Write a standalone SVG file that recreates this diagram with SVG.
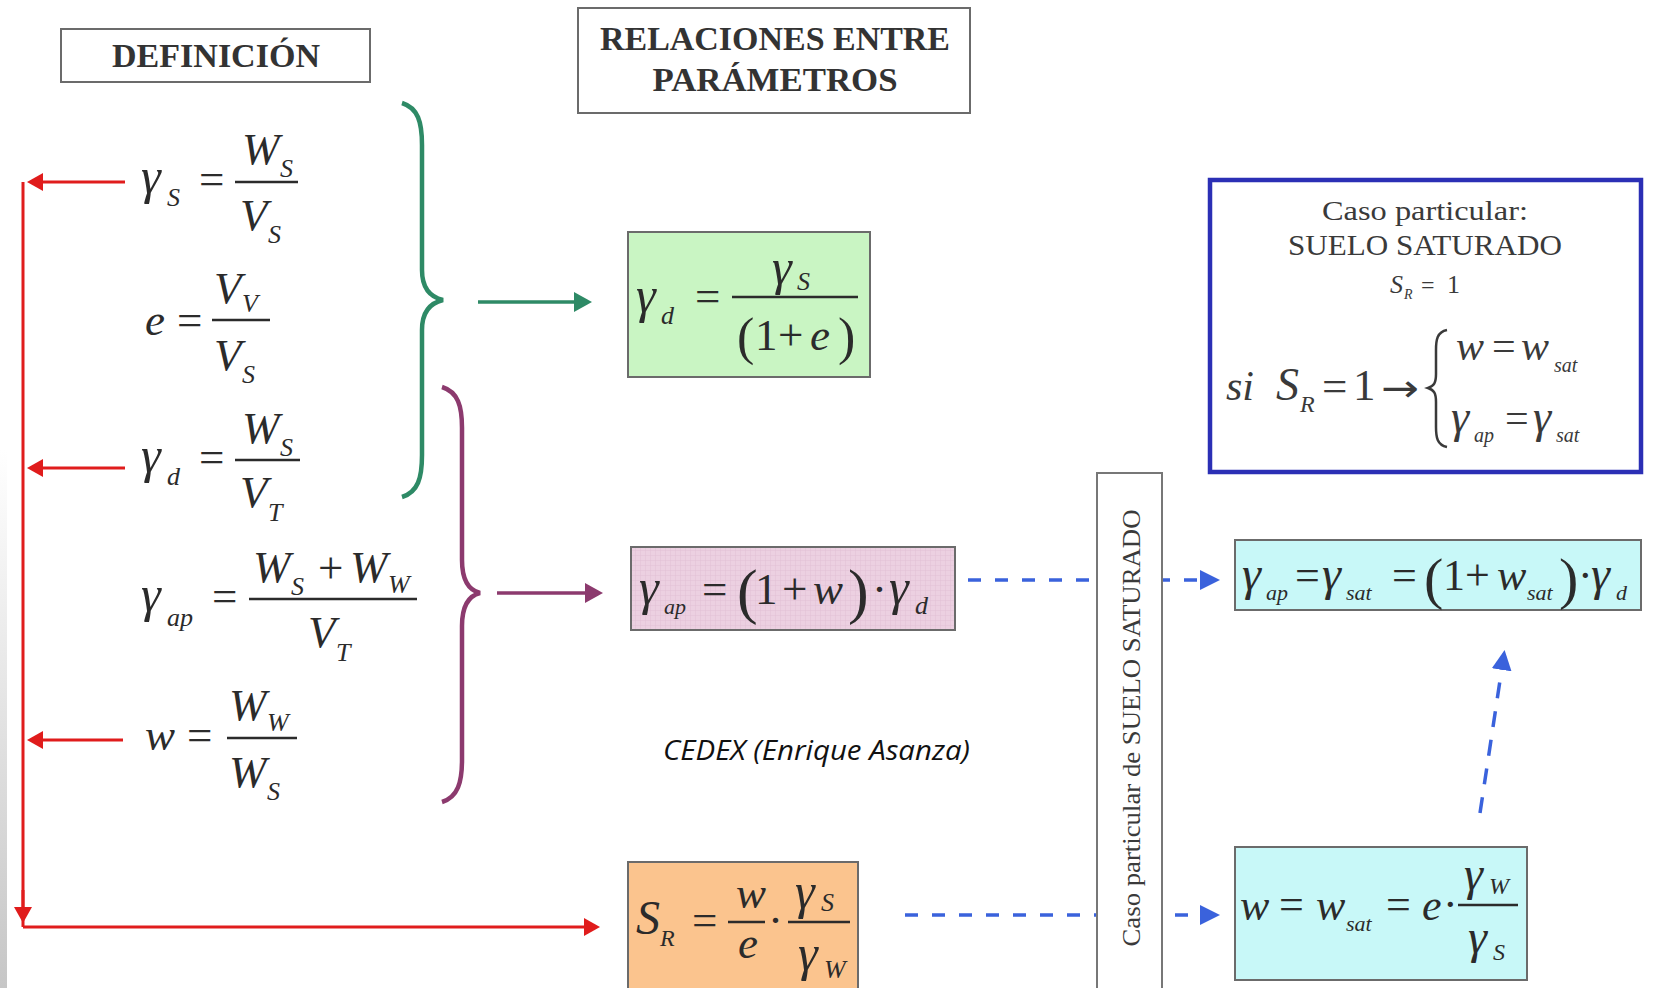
<svg xmlns="http://www.w3.org/2000/svg" width="1657" height="988" viewBox="0 0 1657 988">
<style>
.t{font-family:"Liberation Serif","Times New Roman",serif;fill:#2b2b2b;font-style:italic;font-size:45px}
.up{font-style:normal}
.g{font-size:50px}
.S{font-size:26px}
.s22{font-size:22px}
.bar{stroke:#2b2b2b;stroke-width:2.5}
.hdr{font-family:"Liberation Serif","Times New Roman",serif;font-weight:bold;font-size:33px;fill:#333;text-anchor:middle}
.box{stroke:#6b6b6b;stroke-width:2}
.red{stroke:#e01c1c;stroke-width:3;fill:none}
.grn{stroke:#2e8a66;stroke-width:3.5;fill:none}
.pur{stroke:#8c3a6e;stroke-width:3.5;fill:none}
.blu{stroke:#3a62dc;stroke-width:3.5;fill:none;stroke-dasharray:13 14}
.blt{font-family:"Liberation Serif","Times New Roman",serif;fill:#3a3a3a}
</style>
<defs>
<marker id="mRed" markerUnits="userSpaceOnUse" markerWidth="16" markerHeight="18" refX="12" refY="9" orient="auto"><path d="M0,0 L16,9 L0,18 z" fill="#e01c1c"/></marker>
<marker id="mGrn" markerUnits="userSpaceOnUse" markerWidth="18" markerHeight="20" refX="14" refY="10" orient="auto"><path d="M0,0 L18,10 L0,20 z" fill="#2e8a66"/></marker>
<marker id="mPur" markerUnits="userSpaceOnUse" markerWidth="18" markerHeight="20" refX="14" refY="10" orient="auto"><path d="M0,0 L18,10 L0,20 z" fill="#8c3a6e"/></marker>
<marker id="mBlu" markerUnits="userSpaceOnUse" markerWidth="20" markerHeight="20" refX="16" refY="10" orient="auto"><path d="M0,0 L20,10 L0,20 z" fill="#3a62dc"/></marker>
<pattern id="pinkGrid" width="5" height="5" patternUnits="userSpaceOnUse"><rect width="5" height="5" fill="#ecd0e1"/><path d="M0,0 H5 M0,0 V5" stroke="#e2c0d5" stroke-width="1"/></pattern>
<linearGradient id="edge" x1="0" y1="0" x2="0" y2="1"><stop offset="0" stop-color="#ffffff"/><stop offset="1" stop-color="#c6c6c6"/></linearGradient>
</defs>
<rect width="1657" height="988" fill="#ffffff"/>
<rect x="0" y="450" width="7" height="538" fill="url(#edge)"/>

<g id="hdr-definicion">
<rect class="box" x="61" y="29" width="309" height="53" fill="#fff" stroke="#555"/>
<text class="hdr" x="216" y="67" textLength="208" lengthAdjust="spacingAndGlyphs">DEFINICIÓN</text>
</g>
<g id="hdr-relaciones">
<rect class="box" x="578" y="8" width="392" height="105" fill="#fff" stroke="#555"/>
<text class="hdr" x="775" y="50" textLength="350" lengthAdjust="spacingAndGlyphs">RELACIONES ENTRE</text>
<text class="hdr" x="775" y="91" textLength="245" lengthAdjust="spacingAndGlyphs">PARÁMETROS</text>
</g>

<g id="connectors">
<path class="red" d="M23,182 V927"/>
<path class="red" d="M125,182 H31" marker-end="url(#mRed)"/>
<path class="red" d="M125,468 H31" marker-end="url(#mRed)"/>
<path class="red" d="M123,740 H31" marker-end="url(#mRed)"/>
<path class="red" d="M23,890 V919" marker-end="url(#mRed)"/>
<path class="red" d="M23,927 H596" marker-end="url(#mRed)"/>
<path class="grn" d="M478,302 H588" marker-end="url(#mGrn)"/>
<path class="pur" d="M497,593 H599" marker-end="url(#mPur)"/>
<path class="blu" d="M968,580 H1216" marker-end="url(#mBlu)"/>
<path class="blu" d="M905,915 H1216" marker-end="url(#mBlu)"/>
<path class="blu" style="stroke-dasharray:16 13" d="M1480,813 L1504,654" marker-end="url(#mBlu)"/>
</g>

<g id="brace-green">
<path class="grn" style="stroke-width:4.5" d="M402,103 C418,108 422,122 422,145 L422,270 C422,288 430,297 443,300 C430,303 422,312 422,330 L422,455 C422,478 418,492 402,497"/>
</g>
<g id="brace-purple">
<path class="pur" style="stroke-width:4.5" d="M442,387 C458,392 462,406 462,428 L462,560 C462,580 468,590 480,593 C468,596 462,606 462,626 L462,760 C462,782 458,797 442,802"/>
</g>

<g id="def-gammaS">
<line class="bar" x1="235" y1="182" x2="298" y2="182"/>
<text class="t"><tspan class="g" x="141" y="193">γ</tspan><tspan class="S" x="167" y="206">S</tspan><tspan class="up" x="199" y="194">=</tspan><tspan x="242" y="164">W</tspan><tspan class="S" x="280" y="177">S</tspan><tspan x="240" y="230">V</tspan><tspan class="S" x="268" y="243">S</tspan></text>
</g>
<g id="def-e">
<line class="bar" x1="212" y1="320" x2="270" y2="320"/>
<text class="t"><tspan x="145" y="335">e</tspan><tspan class="up" x="177" y="335">=</tspan><tspan x="214" y="303">V</tspan><tspan class="S" x="242" y="312">V</tspan><tspan x="214" y="370">V</tspan><tspan class="S" x="242" y="383">S</tspan></text>
</g>
<g id="def-gammad">
<line class="bar" x1="235" y1="460" x2="300" y2="460"/>
<text class="t"><tspan class="g" x="141" y="472">γ</tspan><tspan class="S" x="167" y="485">d</tspan><tspan class="up" x="199" y="472">=</tspan><tspan x="242" y="443">W</tspan><tspan class="S" x="280" y="456">S</tspan><tspan x="240" y="507">V</tspan><tspan class="S" x="268" y="521">T</tspan></text>
</g>
<g id="def-gammaap">
<line class="bar" x1="249" y1="599" x2="417" y2="599"/>
<text class="t"><tspan class="g" x="141" y="611">γ</tspan><tspan class="S" x="167" y="626">ap</tspan><tspan class="up" x="212" y="611">=</tspan><tspan x="253" y="582">W</tspan><tspan class="S" x="291" y="595">S</tspan><tspan class="up" x="318" y="583">+</tspan><tspan x="350" y="582">W</tspan><tspan class="S" x="388" y="593">W</tspan><tspan x="308" y="647">V</tspan><tspan class="S" x="336" y="661">T</tspan></text>
</g>
<g id="def-w">
<line class="bar" x1="227" y1="738" x2="297" y2="738"/>
<text class="t"><tspan x="145" y="750">w</tspan><tspan class="up" x="187" y="750">=</tspan><tspan x="229" y="720">W</tspan><tspan class="S" x="267" y="731">W</tspan><tspan x="229" y="787">W</tspan><tspan class="S" x="267" y="800">S</tspan></text>
</g>

<g id="rel-gammad">
<rect class="box" x="628" y="232" width="242" height="145" fill="#c9f5c3"/>
<line class="bar" x1="732" y1="297" x2="858" y2="297"/>
<text class="t"><tspan class="g" x="636" y="312">γ</tspan><tspan class="S" x="661" y="324">d</tspan><tspan class="up" x="695" y="311">=</tspan><tspan class="g" x="772" y="284">γ</tspan><tspan class="S" x="797" y="290">S</tspan><tspan class="up" style="font-size:52px" x="737" y="354">(</tspan><tspan class="up" x="755" y="350">1</tspan><tspan class="up" x="778" y="350">+</tspan><tspan x="810" y="350">e</tspan><tspan class="up" style="font-size:52px" x="838" y="354">)</tspan></text>
</g>

<g id="rel-gammaap">
<rect class="box" x="631" y="547" width="324" height="83" fill="url(#pinkGrid)"/>
<text class="t"><tspan class="g" x="639" y="604">γ</tspan><tspan class="s22" x="664" y="614">ap</tspan><tspan class="up" x="702" y="604">=</tspan><tspan class="up" style="font-size:62px" x="737" y="612">(</tspan><tspan class="up" x="755" y="604">1</tspan><tspan class="up" x="782" y="604">+</tspan><tspan x="813" y="604">w</tspan><tspan class="up" style="font-size:62px" x="848" y="612">)</tspan><tspan class="up" x="872" y="604">·</tspan><tspan class="g" x="889" y="604">γ</tspan><tspan class="S" x="915" y="614">d</tspan></text>
</g>

<g id="rel-SR">
<rect class="box" x="628" y="862" width="230" height="135" fill="#fbc48e"/>
<line class="bar" x1="728" y1="922" x2="765" y2="922"/>
<line class="bar" x1="788" y1="922" x2="850" y2="922"/>
<text class="t"><tspan style="font-size:48px" x="636" y="934">S</tspan><tspan style="font-size:24px" x="660" y="946">R</tspan><tspan class="up" x="692" y="935">=</tspan><tspan x="736" y="908">w</tspan><tspan x="738" y="958">e</tspan><tspan class="up" x="768" y="935">·</tspan><tspan class="g" x="795" y="908">γ</tspan><tspan class="S" x="821" y="911">S</tspan><tspan class="g" x="798" y="970">γ</tspan><tspan class="S" x="824" y="978">W</tspan></text>
</g>

<g id="credit">
<text x="663" y="760" style="font-family:'Open Sans','Liberation Sans',sans-serif;font-style:italic;font-size:27px;fill:#111" textLength="307" lengthAdjust="spacingAndGlyphs">CEDEX (Enrique Asanza)</text>
</g>

<g id="sat-label">
<rect x="1097" y="473" width="65" height="525" fill="#ffffff" stroke="#777" stroke-width="2"/>
<text class="blt" style="font-size:26px;text-anchor:middle" transform="translate(1140,728) rotate(-90)" x="0" y="0" textLength="437" lengthAdjust="spacingAndGlyphs">Caso particular de SUELO SATURADO</text>
</g>

<g id="sat-box">
<rect x="1210" y="180" width="431" height="292" fill="#ffffff" stroke="#2b2fb5" stroke-width="4.5"/>
<text class="blt" style="font-size:28px;text-anchor:middle" x="1425" y="220" textLength="206" lengthAdjust="spacingAndGlyphs">Caso particular:</text>
<text class="blt" style="font-size:29px;text-anchor:middle" x="1425" y="255" textLength="274" lengthAdjust="spacingAndGlyphs">SUELO SATURADO</text>
<text class="blt"><tspan style="font-style:italic;font-size:26px" x="1390" y="293">S</tspan><tspan style="font-style:italic;font-size:14px" x="1404" y="299">R</tspan><tspan style="font-size:24px" x="1421" y="293">=</tspan><tspan style="font-size:26px" x="1447" y="293">1</tspan></text>
<text class="blt" style="font-size:45px"><tspan style="font-style:italic;font-size:42px" x="1226" y="400">si</tspan><tspan style="font-style:italic;font-size:46px" x="1276" y="400">S</tspan><tspan style="font-style:italic;font-size:24px" x="1300" y="412">R</tspan><tspan x="1322" y="401">=</tspan><tspan x="1353" y="400">1</tspan></text>
<text style="font-family:'DejaVu Sans',sans-serif;font-size:38px;fill:#3a3a3a" x="1381" y="401" textLength="38" lengthAdjust="spacingAndGlyphs">→</text>
<path d="M1447,330 C1437,332 1436,340 1436,350 L1436,374 C1436,383 1434,386 1428,388 C1434,390 1436,393 1436,402 L1436,427 C1436,437 1437,445 1447,447" fill="none" stroke="#3a3a3a" stroke-width="2.5"/>
<text class="blt" style="font-size:42px"><tspan style="font-style:italic" x="1456" y="360">w</tspan><tspan x="1492" y="360">=</tspan><tspan style="font-style:italic" x="1521" y="360">w</tspan><tspan style="font-style:italic;font-size:20px" x="1554" y="372">sat</tspan></text>
<text class="blt" style="font-size:42px"><tspan style="font-style:italic;font-size:46px" x="1451" y="432">γ</tspan><tspan style="font-style:italic;font-size:20px" x="1474" y="442">ap</tspan><tspan x="1505" y="432">=</tspan><tspan style="font-style:italic;font-size:46px" x="1533" y="432">γ</tspan><tspan style="font-style:italic;font-size:20px" x="1556" y="442">sat</tspan></text>
</g>

<g id="sat-gammaap">
<rect class="box" x="1235" y="540" width="406" height="70" fill="#c8f8f8"/>
<text class="t" style="font-size:44px"><tspan style="font-size:48px" x="1242" y="590">γ</tspan><tspan class="s22" x="1266" y="600">ap</tspan><tspan class="up" x="1295" y="590">=</tspan><tspan style="font-size:48px" x="1322" y="590">γ</tspan><tspan class="s22" x="1346" y="600">sat</tspan><tspan class="up" x="1392" y="590">=</tspan><tspan class="up" style="font-size:58px" x="1424" y="598">(</tspan><tspan class="up" x="1443" y="590">1</tspan><tspan class="up" x="1465" y="590">+</tspan><tspan x="1497" y="590">w</tspan><tspan class="s22" x="1527" y="600">sat</tspan><tspan class="up" style="font-size:58px" x="1559" y="598">)</tspan><tspan class="up" x="1578" y="590">·</tspan><tspan style="font-size:48px" x="1591" y="590">γ</tspan><tspan class="s22" x="1616" y="600">d</tspan></text>
</g>

<g id="sat-w">
<rect class="box" x="1235" y="847" width="292" height="133" fill="#c8f8f8"/>
<line class="bar" x1="1458" y1="905" x2="1518" y2="905"/>
<text class="t" style="font-size:44px"><tspan x="1240" y="920">w</tspan><tspan class="up" x="1279" y="919">=</tspan><tspan x="1316" y="920">w</tspan><tspan class="s22" x="1346" y="931">sat</tspan><tspan class="up" x="1386" y="919">=</tspan><tspan x="1422" y="920">e</tspan><tspan class="up" x="1443" y="919">·</tspan><tspan style="font-size:48px" x="1464" y="890">γ</tspan><tspan style="font-size:24px" x="1489" y="894">W</tspan><tspan style="font-size:48px" x="1468" y="953">γ</tspan><tspan style="font-size:24px" x="1493" y="960">S</tspan></text>
</g>
</svg>
